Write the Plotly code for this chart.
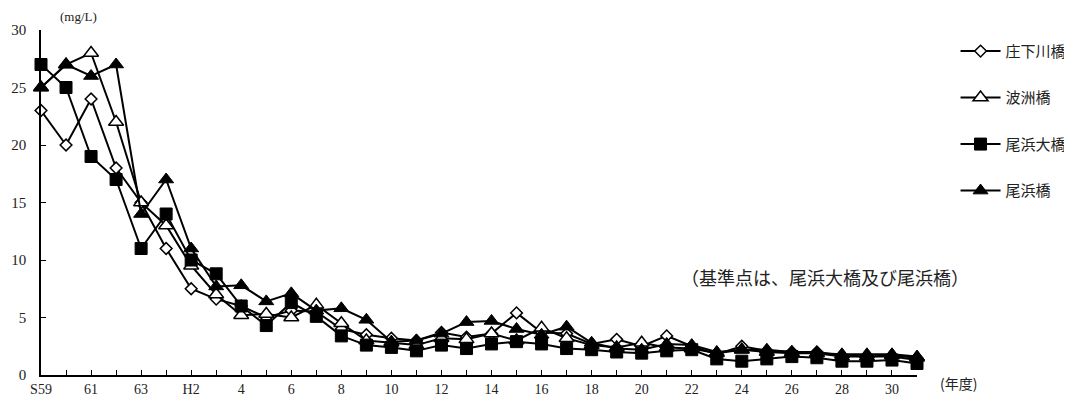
import plotly.graph_objects as go

categories = ["S59", "S60", "S61", "S62", "S63"] + ["H%d" % i for i in range(1, 32)]
tick_labels = ["S59", "", "61", "", "63", "", "H2", "", "4", "", "6", "", "8", "", "10", "",
               "12", "", "14", "", "16", "", "18", "", "20", "", "22", "", "24", "", "26", "",
               "28", "", "30", ""]

shoge = [23, 20, 24, 18, 15, 11, 7.5, 6.6, 6.0, 5.0, 5.6, 5.5, 4.0, 3.5, 3.2, 3.0, 3.7, 3.3,
         3.6, 5.4, 3.7, 3.6, 2.7, 3.1, 2.5, 3.4, 2.5, 1.8, 2.5, 2.1, 2.0, 2.0, 1.7, 1.6, 1.6, 1.3]
hasu = [25, 27, 28, 22, 15, 13, 9.5, 7.0, 5.2, 5.3, 5.0, 6.1, 4.5, 3.0, 2.8, 2.6, 3.2, 3.1,
        3.6, 3.0, 4.1, 3.2, 2.6, 2.4, 2.8, 2.4, 2.3, 1.9, 2.2, 2.0, 1.9, 1.9, 1.6, 1.6, 1.7, 1.5]
obama_ohashi = [27, 25, 19, 17, 11, 14, 10, 8.8, 6.0, 4.3, 6.3, 5.1, 3.4, 2.6, 2.4, 2.1, 2.6, 2.3,
                2.7, 2.9, 2.7, 2.3, 2.2, 2.0, 1.9, 2.1, 2.2, 1.4, 1.2, 1.4, 1.6, 1.5, 1.2, 1.2, 1.3, 1.0]
obama = [25, 27, 26, 27, 14, 17, 11, 7.7, 7.8, 6.4, 7.1, 5.6, 5.8, 4.8, 2.9, 3.0, 3.6, 4.6,
         4.7, 4.0, 3.5, 4.2, 2.8, 2.3, 2.2, 2.7, 2.6, 2.0, 2.2, 2.2, 2.0, 1.9, 1.8, 1.8, 1.8, 1.6]

series = [
    ("庄下川橋", shoge, dict(symbol="diamond", size=9, color="white", line=dict(color="black", width=1.5))),
    ("波洲橋", hasu, dict(symbol="triangle-up", size=13, color="white", line=dict(color="black", width=1.5))),
    ("尾浜大橋", obama_ohashi, dict(symbol="square", size=12, color="black", line=dict(color="black", width=1))),
    ("尾浜橋", obama, dict(symbol="triangle-up", size=13, color="black", line=dict(color="black", width=1))),
]

SERIF = "Liberation Serif, DejaVu Serif, serif"
JP = "Noto Sans CJK JP, sans-serif"

fig = go.Figure()
for i, (name, vals, mk) in enumerate(series):
    fig.add_trace(go.Scatter(
        x=categories, y=vals, name=name, mode="lines+markers",
        line=dict(color="black", width=2), marker=mk, cliponaxis=False,
        legendgroup="g%d" % i,
    ))

fig.update_layout(
    width=1064, height=395,
    margin=dict(l=33, r=155, t=22, b=28, autoexpand=False),
    paper_bgcolor="white", plot_bgcolor="white",
    showlegend=True,
    legend=dict(x=1.044, y=0.986, xanchor="left", yanchor="top",
                font=dict(family=JP, size=15, color="#222"),
                tracegroupgap=24, bgcolor="rgba(0,0,0,0)", itemwidth=40),
    xaxis=dict(type="category", range=[0, 35], tickmode="array", tickvals=categories,
               ticktext=tick_labels, ticks="inside", ticklen=5, tickcolor="black",
               showline=True, linecolor="black", linewidth=1.5, showgrid=False, zeroline=False,
               automargin=False,
               tickfont=dict(family=SERIF, size=14, color="#222")),
    yaxis=dict(range=[0, 30], tickvals=[0, 5, 10, 15, 20, 25, 30], ticks="inside", ticklen=5,
               tickcolor="black", showline=True, linecolor="black", linewidth=1.5,
               showgrid=False, zeroline=False, automargin=False, ticklabelstandoff=10,
               tickfont=dict(family=SERIF, size=15, color="#222")),
    annotations=[
        dict(text="(mg/L)", xref="paper", yref="paper", x=0.043, y=1.04, xanchor="center",
             yanchor="middle", showarrow=False, font=dict(family=SERIF, size=13, color="#222")),
        dict(text="（基準点は、尾浜大橋及び尾浜橋）", xref="paper", yref="paper", x=0.895, y=0.285,
             xanchor="center", yanchor="middle", showarrow=False,
             font=dict(family=JP, size=18, color="#222")),
        dict(text="(年度)", xref="paper", yref="paper", x=1.047, y=-0.023, xanchor="center",
             yanchor="middle", showarrow=False, font=dict(family=JP, size=14, color="#222")),
    ],
)

fig.write_html("out.html")
